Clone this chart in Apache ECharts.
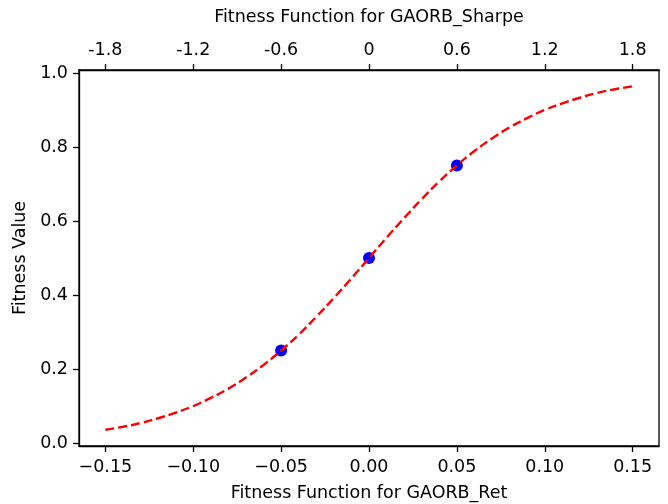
<!DOCTYPE html>
<html>
<head>
<meta charset="utf-8">
<script src="https://cdn.jsdelivr.net/npm/echarts@6/dist/echarts.min.js"></script>
<style>
  html, body { margin: 0; padding: 0; background: #fff; }
  #chart { width: 668px; height: 504px; }
</style>
</head>
<body>
<div id="chart"></div>
<script>
// curve values
const curveX = [-0.15, -0.14, -0.13, -0.12, -0.11, -0.10, -0.09, -0.08, -0.07, -0.06,
  -0.05, -0.04, -0.03, -0.02, -0.01, 0.00, 0.01, 0.02, 0.03, 0.04,
  0.05, 0.06, 0.07, 0.08, 0.09, 0.10, 0.11, 0.12, 0.13, 0.14, 0.15]
const curveY = [0.036, 0.044, 0.054, 0.067, 0.082, 0.100, 0.122, 0.147, 0.177, 0.211,
  0.250, 0.293, 0.341, 0.392, 0.445, 0.500, 0.555, 0.608, 0.659, 0.707,
  0.750, 0.789, 0.823, 0.853, 0.878, 0.900, 0.918, 0.933, 0.946, 0.956, 0.964]

// the three marked points
const pointX = [-0.05, 0.00, 0.05]
const pointY = [0.25, 0.50, 0.75]

// ticks
const bottomTicks = [-0.15, -0.10, -0.05, 0.00, 0.05, 0.10, 0.15]
const topTicks = [-1.8, -1.2, -0.6, 0, 0.6, 1.2, 1.8]
const topTickLabels = ['-1.8', '-1.2', '-0.6', '0', '0.6', '1.2', '1.8']
const yTicks = [0.0, 0.2, 0.4, 0.6, 0.8, 1.0]

const font = 'DejaVu Sans'
const fs = 17.5

const tickStyle = {
  show: true,
  inside: false,
  length: 6,
  lineStyle: { color: '#000', width: 1.3 }
}

const option = {
  animation: false,
  backgroundColor: '#fff',
  grid: {
    left: 79,
    right: 9,
    top: 70,
    bottom: 58,
    containLabel: false,
    outerBoundsMode: 'none',
    show: true,
    borderColor: '#000',
    borderWidth: 1.3,
    backgroundColor: 'transparent'
  },
  xAxis: [
    {
      type: 'value',
      position: 'bottom',
      min: -0.165,
      max: 0.165,
      name: 'Fitness Function for GAORB_Ret',
      nameLocation: 'middle',
      nameGap: 38,
      nameTextStyle: { fontFamily: font, fontSize: fs, color: '#000' },
      splitLine: { show: false },
      axisLine: { show: true, onZero: false, lineStyle: { color: '#000', width: 1.3 } },
      axisTick: Object.assign({ customValues: bottomTicks }, tickStyle),
      axisLabel: {
        customValues: bottomTicks,
        margin: 12,
        fontFamily: font,
        fontSize: fs,
        color: '#000',
        formatter: (v) => (v < 0 ? '\u2212' : '') + Math.abs(v).toFixed(2)
      }
    },
    {
      type: 'value',
      position: 'top',
      min: -1.98,
      max: 1.98,
      name: 'Fitness Function for GAORB_Sharpe',
      nameLocation: 'middle',
      nameGap: 44,
      nameTextStyle: { fontFamily: font, fontSize: fs, color: '#000' },
      splitLine: { show: false },
      axisLine: { show: true, onZero: false, lineStyle: { color: '#000', width: 1.3 } },
      axisTick: Object.assign({ customValues: topTicks }, tickStyle),
      axisLabel: {
        customValues: topTicks,
        margin: 11,
        fontFamily: font,
        fontSize: fs,
        color: '#000',
        formatter: (v) => {
          const i = topTicks.findIndex((t) => Math.abs(t - v) < 1e-6)
          return i >= 0 ? topTickLabels[i] : ''
        }
      }
    }
  ],
  yAxis: {
    type: 'value',
    min: -0.008,
    max: 1.008,
    name: 'Fitness Value',
    nameLocation: 'middle',
    nameGap: 41,
    nameRotate: 90,
    nameTextStyle: { fontFamily: font, fontSize: fs, color: '#000' },
    splitLine: { show: false },
    axisLine: { show: true, onZero: false, lineStyle: { color: '#000', width: 1.3 } },
    axisTick: Object.assign({ customValues: yTicks }, tickStyle),
    axisLabel: {
      customValues: yTicks,
      margin: 11,
      fontFamily: font,
      fontSize: fs,
      color: '#000',
      formatter: (v) => v.toFixed(1)
    }
  },
  series: [
    {
      name: 'points',
      type: 'scatter',
      xAxisIndex: 0,
      data: pointX.map((x, i) => [x, pointY[i]]),
      symbol: 'circle',
      symbolSize: 12,
      itemStyle: { color: '#0000ff', opacity: 1 },
      z: 2
    },
    {
      name: 'curve',
      type: 'line',
      xAxisIndex: 0,
      data: curveX.map((x, i) => [x, curveY[i]]),
      smooth: true,
      showSymbol: false,
      lineStyle: { color: '#ff0000', width: 2.4, type: [9, 4] },
      z: 3
    }
  ]
}

const myChart = echarts.init(document.getElementById('chart'), null, { renderer: 'canvas' })
myChart.setOption(option)
</script>
</body>
</html>
